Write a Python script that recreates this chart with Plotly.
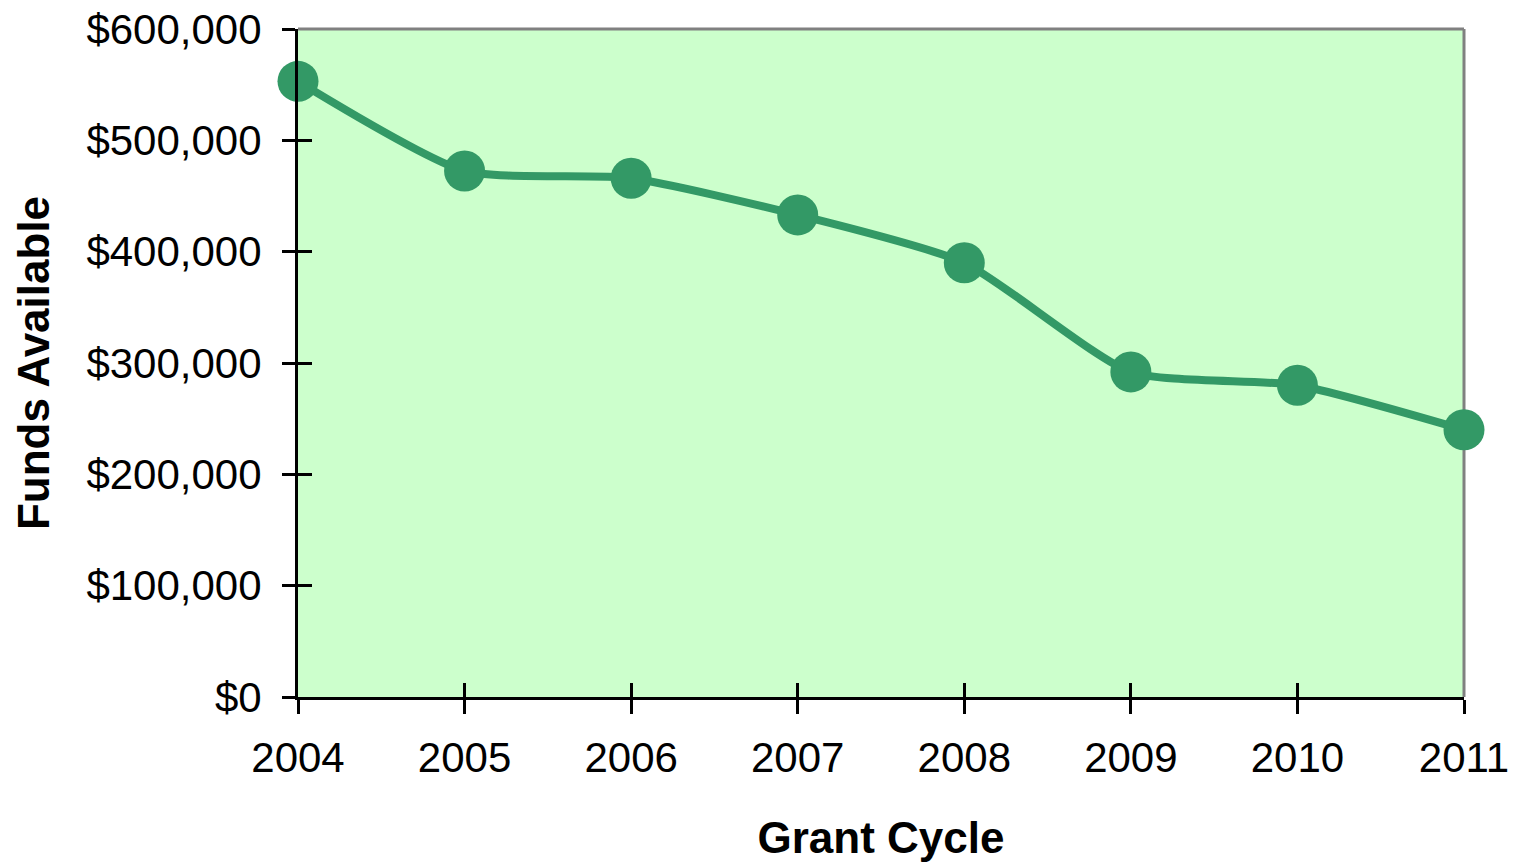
import plotly.graph_objects as go

years = [2004, 2005, 2006, 2007, 2008, 2009, 2010, 2011]
funds = [553000, 472500, 466000, 433000, 390000, 292000, 280000, 240000]
y_ticks = [0, 100000, 200000, 300000, 400000, 500000, 600000]
y_tick_text = ["$0", "$100,000", "$200,000", "$300,000", "$400,000", "$500,000", "$600,000"]

GREEN = "#339966"
FONT = "Liberation Sans, Arial, sans-serif"

fig = go.Figure()
fig.add_trace(go.Scatter(
    x=years, y=funds, mode="lines+markers",
    line=dict(color=GREEN, width=8, shape="spline", smoothing=0.6),
    marker=dict(color=GREEN, size=41),
    cliponaxis=False, showlegend=False,
))
fig.add_trace(go.Scatter(x=years, y=funds, xaxis="x2", yaxis="y2",
                         mode="markers", marker=dict(opacity=0), showlegend=False,
                         hoverinfo="skip"))

fig.update_layout(
    width=1521, height=863,
    margin=dict(l=298, r=57, t=29, b=166),
    paper_bgcolor="white", plot_bgcolor="#CCFFCC",
    font=dict(family=FONT, size=42, color="black"),
    xaxis=dict(range=[2004, 2011], tickvals=years, ticks="outside", ticklen=14,
               tickwidth=3, tickcolor="black", showline=True, linecolor="black",
               linewidth=3, showgrid=False, zeroline=False, automargin=False,
               tickfont=dict(size=42), ticklabelstandoff=8, ticklabeloverflow="allow",
               title=dict(text="<b>Grant Cycle</b>", font=dict(size=44), standoff=42)),
    yaxis=dict(range=[0, 600000], tickvals=y_ticks, ticktext=y_tick_text,
               ticks="outside", ticklen=13, tickwidth=3, tickcolor="black",
               showline=True, linecolor="black", linewidth=3, showgrid=False,
               zeroline=False, automargin=False, ticklabeloverflow="allow",
               tickfont=dict(size=42), ticklabelstandoff=12,
               title=dict(text="<b>Funds Available</b>", font=dict(size=44), standoff=24)),
    xaxis2=dict(overlaying="x", range=[2004, 2011], tickvals=years, ticks="inside",
                ticklen=14, tickwidth=3, tickcolor="black", showticklabels=False,
                showline=False, showgrid=False, zeroline=False, side="bottom",
                automargin=False),
    yaxis2=dict(overlaying="y", range=[0, 600000], tickvals=y_ticks, ticks="inside",
                ticklen=14, tickwidth=3, tickcolor="black", showticklabels=False,
                showline=False, showgrid=False, zeroline=False, side="left",
                automargin=False),
    shapes=[
        dict(type="line", xref="paper", yref="paper", x0=0, x1=1, y0=1, y1=1,
             line=dict(color="#808080", width=3), layer="below"),
        dict(type="line", xref="paper", yref="paper", x0=1, x1=1, y0=0, y1=1,
             line=dict(color="#808080", width=3), layer="below"),
    ],
)

fig.write_html("out.html", config={"displayModeBar": False},
               post_script="document.body.style.margin='0';document.body.style.overflow='hidden';")
